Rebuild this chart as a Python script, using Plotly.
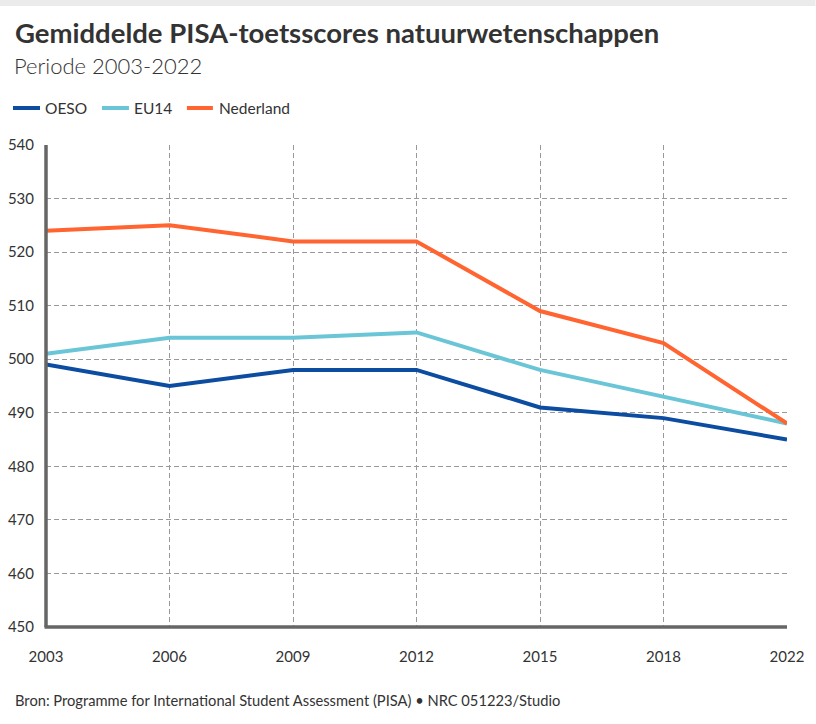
import plotly.graph_objects as go

years = ["2003", "2006", "2009", "2012", "2015", "2018", "2022"]
oeso = [499, 495, 498, 498, 491, 489, 485]
eu14 = [501, 504, 504, 505, 498, 493, 488]
nederland = [524, 525, 522, 522, 509, 503, 488]
y_ticks = [450, 460, 470, 480, 490, 500, 510, 520, 530, 540]

FONT = "Lato"
TXT = "#333333"
GRID = "#999999"

L, R, T, B = 46, 28.5, 145, 97
W, H = 816, 724
pw, ph = W - L - R, H - T - B

def px(x):
    return (x - L) / pw

def py(y):
    return (H - B - y) / ph

fig = go.Figure()
series = [("OESO", oeso, "#0c4ca1"), ("EU14", eu14, "#6ac6d6"), ("Nederland", nederland, "#ff6431")]
legend_pos = [(13, 40, 43), (102, 129, 132), (187, 213, 217)]
shapes = [
    dict(type="rect", xref="paper", yref="paper", x0=px(0), x1=px(W), y0=py(6), y1=py(0),
         fillcolor="#ebebeb", line=dict(width=0), layer="below"),
    dict(type="line", xref="paper", yref="paper", x0=0, x1=0, y0=0, y1=1,
         line=dict(color="#666666", width=3.5)),
    dict(type="line", xref="paper", yref="paper", x0=-0.002, x1=1, y0=0, y1=0,
         line=dict(color="#666666", width=3.5)),
]
annotations = [
    dict(text="<b>Gemiddelde PISA-toetsscores natuurwetenschappen</b>", xref="paper", yref="paper",
         x=px(13), y=py(33), xanchor="left", yanchor="middle", showarrow=False,
         font=dict(size=27.5, color=TXT, family=FONT)),
    dict(text="Periode 2003-2022", xref="paper", yref="paper",
         x=px(12), y=py(66), xanchor="left", yanchor="middle", showarrow=False,
         font=dict(size=22, color=TXT, family=FONT, weight=300)),
    dict(text="Bron: Programme for International Student Assessment (PISA) \u2022 NRC 051223/Studio",
         xref="paper", yref="paper",
         x=px(13), y=py(700), xanchor="left", yanchor="middle", showarrow=False,
         font=dict(size=14.7, color=TXT, family=FONT)),
]
for (name, vals, col), (lx0, lx1, tx) in zip(series, legend_pos):
    fig.add_trace(go.Scatter(x=years, y=vals, name=name, mode="lines",
                             line=dict(color=col, width=4), hoverinfo="x+y+name",
                             showlegend=False))
    shapes.append(dict(type="line", xref="paper", yref="paper", x0=px(lx0), x1=px(lx1),
                       y0=py(108), y1=py(108), line=dict(color=col, width=4)))
    annotations.append(dict(text=name, xref="paper", yref="paper", x=px(tx), y=py(108),
                            xanchor="left", yanchor="middle", showarrow=False,
                            font=dict(size=15.5, color=TXT, family=FONT)))

fig.update_layout(
    width=W, height=H,
    margin=dict(l=L, r=R, t=T, b=B, autoexpand=False),
    paper_bgcolor="white", plot_bgcolor="white",
    font=dict(family=FONT, color=TXT, size=15),
    showlegend=False,
    xaxis=dict(type="category", range=[0, 6], showgrid=True, gridcolor=GRID,
               griddash="5px,3px", gridwidth=1, showline=False, zeroline=False,
               ticks="outside", ticklen=16, tickcolor="rgba(0,0,0,0)", automargin=False,
               tickfont=dict(size=15, color=TXT), fixedrange=True),
    yaxis=dict(range=[450, 540], tickvals=y_ticks, showgrid=True, gridcolor=GRID,
               griddash="5px,3px", gridwidth=1, showline=False, zeroline=False,
               ticks="outside", ticklen=8, tickcolor="rgba(0,0,0,0)", automargin=False,
               tickfont=dict(size=15, color=TXT), fixedrange=True),
    shapes=shapes,
    annotations=annotations,
)

fig.write_html("out.html")
